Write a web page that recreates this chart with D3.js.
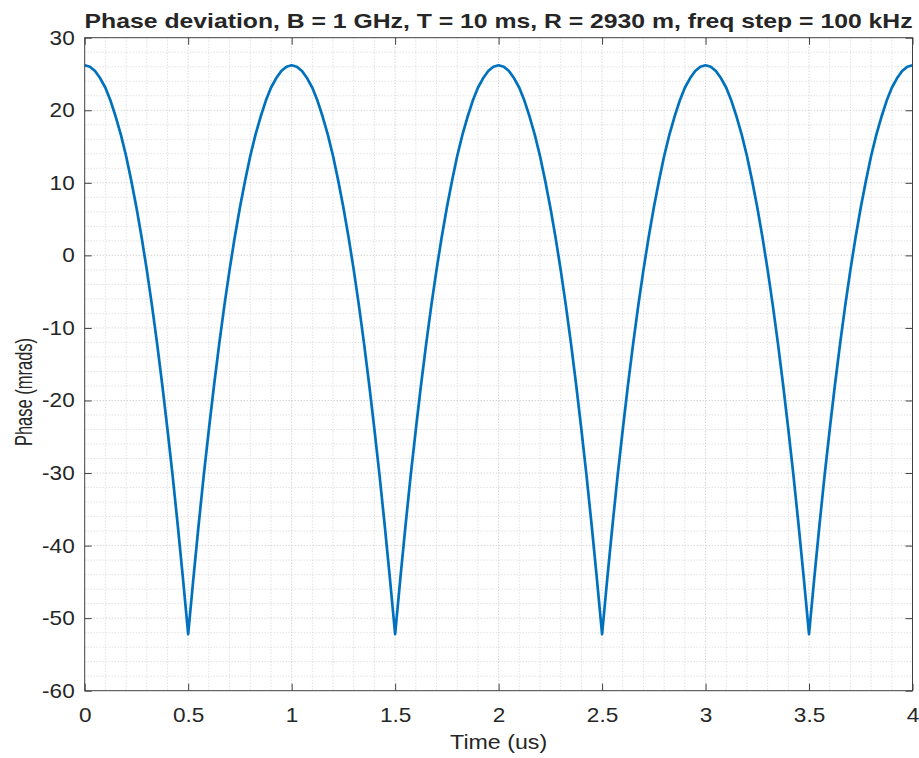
<!DOCTYPE html>
<html lang="en">
<head>
<meta charset="UTF-8">
<title>Phase deviation</title>
<script src="https://d3js.org/d3.v7.min.js"></script>
<style>
    body { margin: 0; background: #fff; }
    svg { display: block; }
    text { font-family: "Liberation Sans", Arial, Helvetica, sans-serif; fill: #262626; }
    .tick text { font-size: 20px; fill: #262626; }
    .tick line { stroke: #404040; }
</style>
</head>
<body>
<svg id="chart" width="919" height="758"></svg>
<script>
// --- data ---
const titleText = "Phase deviation, B = 1 GHz, T = 10 ms, R = 2930 m, freq step = 100 kHz";
const xLabel = "Time (us)";
const yLabel = "Phase (mrads)";
const xTicks = [0, 0.5, 1, 1.5, 2, 2.5, 3, 3.5, 4];
const yTicks = [-60, -50, -40, -30, -20, -10, 0, 10, 20, 30];
const timeStep = 0.025; // us between samples
// phase (mrads), one row per half microsecond
const phase = [
    26.2, 26.0, 25.4, 24.4, 23.1, 21.3, 19.1, 16.6, 13.7, 10.3, 6.6, 2.5, -2.0, -6.9, -12.2, -17.9, -24.0, -30.4, -37.3, -44.6,
    -52.2, -44.6, -37.3, -30.4, -24.0, -17.9, -12.2, -6.9, -2.0, 2.5, 6.6, 10.3, 13.7, 16.6, 19.1, 21.3, 23.1, 24.4, 25.4, 26.0,
    26.2, 26.0, 25.4, 24.4, 23.1, 21.3, 19.1, 16.6, 13.7, 10.3, 6.6, 2.5, -2.0, -6.9, -12.2, -17.9, -24.0, -30.4, -37.3, -44.6,
    -52.2, -44.6, -37.3, -30.4, -24.0, -17.9, -12.2, -6.9, -2.0, 2.5, 6.6, 10.3, 13.7, 16.6, 19.1, 21.3, 23.1, 24.4, 25.4, 26.0,
    26.2, 26.0, 25.4, 24.4, 23.1, 21.3, 19.1, 16.6, 13.7, 10.3, 6.6, 2.5, -2.0, -6.9, -12.2, -17.9, -24.0, -30.4, -37.3, -44.6,
    -52.2, -44.6, -37.3, -30.4, -24.0, -17.9, -12.2, -6.9, -2.0, 2.5, 6.6, 10.3, 13.7, 16.6, 19.1, 21.3, 23.1, 24.4, 25.4, 26.0,
    26.2, 26.0, 25.4, 24.4, 23.1, 21.3, 19.1, 16.6, 13.7, 10.3, 6.6, 2.5, -2.0, -6.9, -12.2, -17.9, -24.0, -30.4, -37.3, -44.6,
    -52.2, -44.6, -37.3, -30.4, -24.0, -17.9, -12.2, -6.9, -2.0, 2.5, 6.6, 10.3, 13.7, 16.6, 19.1, 21.3, 23.1, 24.4, 25.4, 26.0,
    26.2
];

// --- layout ---
const plotL = 84.7, plotR = 912.5, plotT = 37.7, plotB = 690.7;
const x = d3.scaleLinear().domain([0, 4]).range([plotL, plotR]);
const y = d3.scaleLinear().domain([-60, 30]).range([plotB, plotT]);
const stretch = 1.13; // the picture's text is a little wider than it is tall

const svg = d3.select("#chart");

// grid (minor dotted, major a bit darker)
const grid = svg.append("g");
const xMinor = d3.range(1, 40).map(d => d / 10).filter(d => !xTicks.includes(d));
const yMinor = d3.range(-58, 30, 2).filter(d => !yTicks.includes(d));
grid.selectAll(".xm").data(xMinor).join("line")
    .attr("x1", d => x(d)).attr("x2", d => x(d)).attr("y1", plotT).attr("y2", plotB)
    .attr("stroke", "#d4d4d4").attr("stroke-dasharray", "1,2");
grid.selectAll(".ym").data(yMinor).join("line")
    .attr("x1", plotL).attr("x2", plotR).attr("y1", d => y(d)).attr("y2", d => y(d))
    .attr("stroke", "#d4d4d4").attr("stroke-dasharray", "1,2");
grid.selectAll(".xM").data(xTicks.slice(1, -1)).join("line")
    .attr("x1", d => x(d)).attr("x2", d => x(d)).attr("y1", plotT).attr("y2", plotB)
    .attr("stroke", "#c4c4c4").attr("stroke-dasharray", "1,2");
grid.selectAll(".yM").data(yTicks.slice(1, -1)).join("line")
    .attr("x1", plotL).attr("x2", plotR).attr("y1", d => y(d)).attr("y2", d => y(d))
    .attr("stroke", "#c4c4c4").attr("stroke-dasharray", "1,2");

// curve
const line = d3.line()
    .x((d, i) => x(i * timeStep))
    .y(d => y(d));
svg.append("path")
    .datum(phase)
    .attr("d", line)
    .attr("fill", "none")
    .attr("stroke", "#0072BD")
    .attr("stroke-width", 2.7)
    .attr("stroke-linejoin", "round");

// axes, ticks pointing inward like MATLAB
const fmt = d => String(d);
svg.append("g").attr("transform", `translate(0,${plotB})`)
    .call(d3.axisBottom(x).tickValues(xTicks).tickFormat(fmt).tickSizeInner(-7).tickSizeOuter(0).tickPadding(17))
    .call(g => g.select(".domain").remove())
    .call(g => g.selectAll(".tick text").attr("transform", `scale(${stretch},1)`));
svg.append("g").attr("transform", `translate(0,${plotT})`)
    .call(d3.axisTop(x).tickValues(xTicks).tickFormat("").tickSizeInner(-7).tickSizeOuter(0))
    .call(g => g.select(".domain").remove());
svg.append("g").attr("transform", `translate(${plotL},0)`)
    .call(d3.axisLeft(y).tickValues(yTicks).tickFormat(fmt).tickSizeInner(-7).tickSizeOuter(0).tickPadding(10))
    .call(g => g.select(".domain").remove())
    .call(g => g.selectAll(".tick text").attr("x", -10 / stretch).attr("transform", `scale(${stretch},1)`));
svg.append("g").attr("transform", `translate(${plotR},0)`)
    .call(d3.axisRight(y).tickValues(yTicks).tickFormat("").tickSizeInner(-7).tickSizeOuter(0))
    .call(g => g.select(".domain").remove());
svg.selectAll("g").attr("font-family", null).attr("font-size", null);

// box
svg.append("rect")
    .attr("x", plotL).attr("y", plotT)
    .attr("width", plotR - plotL).attr("height", plotB - plotT)
    .attr("fill", "none").attr("stroke", "#404040").attr("stroke-width", 1);

// labels
svg.append("text")
    .attr("x", (plotL + plotR) / 2).attr("y", 28)
    .attr("text-anchor", "middle")
    .attr("font-size", 21).attr("font-weight", "bold").attr("fill", "#000")
    .attr("textLength", 828).attr("lengthAdjust", "spacingAndGlyphs")
    .text(titleText);
svg.append("text")
    .attr("transform", `translate(${(plotL + plotR) / 2},749) scale(1.16,1)`)
    .attr("text-anchor", "middle")
    .attr("font-size", 20)
    .text(xLabel);
svg.append("text")
    .attr("transform", "translate(31.5,392) scale(1.5,1) rotate(-90)")
    .attr("text-anchor", "middle")
    .attr("font-size", 16.5)
    .text(yLabel);
</script>
</body>
</html>
